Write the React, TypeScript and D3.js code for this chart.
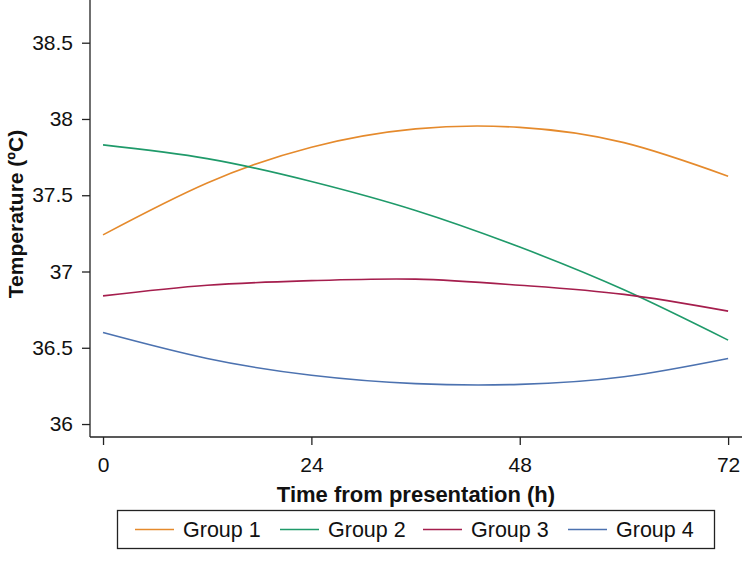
import React, { useEffect, useRef } from 'react';
import * as d3 from 'd3';

const hours = [0, 12, 24, 36, 48, 60, 72];
const group1 = [37.24, 37.58, 37.815, 37.935, 37.945, 37.845, 37.625];
const group2 = [37.83, 37.74, 37.59, 37.4, 37.16, 36.88, 36.55];
const group3 = [36.84, 36.91, 36.94, 36.95, 36.91, 36.85, 36.74];
const group4 = [36.6, 36.43, 36.32, 36.265, 36.26, 36.31, 36.43];
const groupNames = ['Group 1', 'Group 2', 'Group 3', 'Group 4'];
const groupColors = ['#E58A2C', '#1F9A6A', '#A51E4D', '#4C72B0'];
const xTicks = [0, 24, 48, 72];
const yTicks = [36, 36.5, 37, 37.5, 38, 38.5];

const App = () => {
  const ref = useRef<SVGSVGElement>(null);

  useEffect(() => {
    const svg = d3.select(ref.current);
    svg.selectAll('*').remove();
    const font = '"Liberation Sans", Arial, sans-serif';

    const x = d3.scaleLinear().domain([-1.5, 73.6]).range([90, 742]);
    const y = d3.scaleLinear().domain([35.915, 38.78]).range([437, 0]);

    // y axis
    const yAxis = svg
      .append('g')
      .attr('transform', 'translate(90,0)')
      .call(
        d3
          .axisLeft(y)
          .tickValues(yTicks)
          .tickSize(8)
          .tickPadding(9)
          .tickFormat(d => String(d))
      );
    yAxis.select('.domain').attr('d', `M0,0V437`);
    yAxis.selectAll('line').attr('stroke', '#222').attr('stroke-width', 1.3);
    yAxis.select('.domain').attr('stroke', '#222').attr('stroke-width', 1.3);
    yAxis.selectAll('text').attr('font-family', font).attr('font-size', 21).attr('fill', '#111');

    // x axis
    const xAxis = svg
      .append('g')
      .attr('transform', 'translate(0,437)')
      .call(
        d3
          .axisBottom(x)
          .tickValues(xTicks)
          .tickSize(8)
          .tickPadding(12)
          .tickFormat(d => String(d))
      );
    xAxis.select('.domain').attr('d', `M90,0H742`);
    xAxis.selectAll('line').attr('stroke', '#222').attr('stroke-width', 1.3);
    xAxis.select('.domain').attr('stroke', '#222').attr('stroke-width', 1.3);
    xAxis.selectAll('text').attr('font-family', font).attr('font-size', 21).attr('fill', '#111');

    svg
      .append('text')
      .attr('x', 416)
      .attr('y', 502)
      .attr('text-anchor', 'middle')
      .attr('font-family', font)
      .attr('font-weight', 'bold')
      .attr('font-size', 22)
      .attr('fill', '#111')
      .text('Time from presentation (h)');

    svg
      .append('text')
      .attr('transform', 'translate(23,214) rotate(-90)')
      .attr('text-anchor', 'middle')
      .attr('font-family', font)
      .attr('font-weight', 'bold')
      .attr('font-size', 21)
      .attr('fill', '#111')
      .text('Temperature (ºC)');

    const series = [group1, group2, group3, group4];
    const line = d3
      .line<number>()
      .x((_, i) => x(hours[i]))
      .y(d => y(d))
      .curve(d3.curveNatural);

    series.forEach((s, i) => {
      svg
        .append('path')
        .attr('d', line(s))
        .attr('fill', 'none')
        .attr('stroke', groupColors[i])
        .attr('stroke-width', 1.6);
    });

    // legend
    const legend = svg.append('g');
    legend
      .append('rect')
      .attr('x', 117.5)
      .attr('y', 510.5)
      .attr('width', 597)
      .attr('height', 38)
      .attr('fill', 'none')
      .attr('stroke', '#222')
      .attr('stroke-width', 1.3);
    const starts = [135, 280, 423, 568];
    groupNames.forEach((name, i) => {
      legend
        .append('line')
        .attr('x1', starts[i])
        .attr('x2', starts[i] + 39)
        .attr('y1', 529.5)
        .attr('y2', 529.5)
        .attr('stroke', groupColors[i])
        .attr('stroke-width', 1.6);
      legend
        .append('text')
        .attr('x', starts[i] + 48)
        .attr('y', 537)
        .attr('font-family', font)
        .attr('font-size', 21.5)
        .attr('fill', '#111')
        .text(name);
    });
  }, []);

  return (
    <div>
      <style>{'body{margin:0}'}</style>
      <svg ref={ref} width={742} height={563} style={{ display: 'block', background: '#fff' }}></svg>
    </div>
  );
};

export default App;
